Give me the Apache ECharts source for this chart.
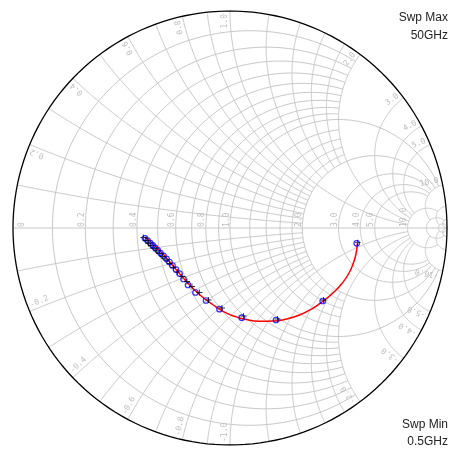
<!DOCTYPE html>
<html><head><meta charset="utf-8">
<script src="https://cdn.jsdelivr.net/npm/echarts@6/dist/echarts.min.js"></script>
<style>html,body{margin:0;padding:0;background:#fff}#c{width:454px;height:450px}</style>
</head><body><div id="c"></div>
<script>
// ---- data (reflection coefficient, real / imaginary) ----
const modelRe = [0.5866,0.5806,0.5668,0.5461,0.5161,0.4770,0.4300,0.3779,0.3203,0.2604,0.1982,0.1336,0.0737,0.0230,-0.0276,-0.0770,-0.1382,-0.1995,-0.2488,-0.2917,-0.3456,-0.3917];
const modelIm = [-0.0705,-0.1198,-0.1659,-0.2120,-0.2558,-0.2972,-0.3364,-0.3724,-0.4009,-0.4194,-0.4286,-0.4295,-0.4217,-0.4078,-0.3862,-0.3548,-0.3088,-0.2475,-0.1912,-0.1396,-0.0806,-0.0415];
const circRe = [0.5839,0.4272,0.2120,0.0539,-0.0484,-0.1106,-0.1590,-0.1935,-0.2143,-0.2327,-0.2488,-0.2650,-0.2788,-0.2926,-0.3065,-0.3203,-0.3327,-0.3447,-0.3562,-0.3677,-0.3797,-0.3917];
const circIm = [-0.0705,-0.3364,-0.4240,-0.4134,-0.3742,-0.3341,-0.2972,-0.2627,-0.2350,-0.2097,-0.1912,-0.1728,-0.1567,-0.1419,-0.1281,-0.1152,-0.1028,-0.0912,-0.0797,-0.0691,-0.0581,-0.0475];
const crossRe = [0.5885,0.4309,0.2189,0.0622,-0.0369,-0.0991,-0.1406,-0.1751,-0.1982,-0.2212,-0.2419,-0.2604,-0.2788,-0.2949,-0.3111,-0.3249,-0.3387,-0.3512,-0.3641,-0.3756,-0.3871,-0.3986];
const crossIm = [-0.0677,-0.3318,-0.4194,-0.4055,-0.3687,-0.3318,-0.2972,-0.2696,-0.2465,-0.2235,-0.2028,-0.1820,-0.1636,-0.1475,-0.1313,-0.1175,-0.1051,-0.0935,-0.0820,-0.0705,-0.0576,-0.0438];
const resistanceTicks = [0,0.2,0.4,0.6,0.8,1.0,2.0,3.0,4.0,5.0,10.0];
const reactanceTicks = [0.2,0.4,0.6,0.8,1.0,2.0,3.0,4.0,5.0,10.0];
const sweepText = ['Swp Max','50GHz','Swp Min','0.5GHz'];

// ---- Smith grid geometry ----
const TWO_PI = 2*Math.PI;
function gam(r,x){const d=(r+1)*(r+1)+x*x;return [(r*r+x*x-1)/d, 2*x/d];}
function norm(a){while(a<0)a+=TWO_PI;while(a>=TWO_PI)a-=TWO_PI;return a;}
function rArc(r,x1,x2){
  const c=r/(1+r), rho=1/(1+r);
  const th=x=>{ if(x===Infinity) return 0; if(x===-Infinity) return TWO_PI; if(x===0) return Math.PI;
    const p=gam(r,x); return norm(Math.atan2(p[1],p[0]-c)); };
  const a=th(x2), b=th(x1), n=180, pts=[];
  for(let i=0;i<=n;i++){const t=a+(b-a)*i/n; pts.push([c+rho*Math.cos(t), rho*Math.sin(t)]);}
  return pts;
}
function xArc(x,r1,r2){
  const cy=1/x, rho=1/Math.abs(x);
  const ps=r=>{ if(r===Infinity) return x>0?1.5*Math.PI:0.5*Math.PI;
    const p=gam(r,x); return norm(Math.atan2(p[1]-cy,p[0]-1)); };
  const a=ps(r1), b=ps(r2), n=180, pts=[];
  for(let i=0;i<=n;i++){const t=a+(b-a)*i/n; pts.push([1+rho*Math.cos(t), cy+rho*Math.sin(t)]);}
  return pts;
}
const gridArcs=[];
const rSpec=[[0.1,2],[0.2,2],[0.3,2],[0.4,2],[0.5,2],[0.6,2],[0.7,2],[0.8,2],[0.9,2],[1.0,10],
  [1.2,2],[1.4,2],[1.6,2],[1.8,2],[2.0,10],[3.0,10],[4.0,10],[5.0,10],[10,20],[20,50],[50,Infinity]];
rSpec.forEach(([r,lim])=>gridArcs.push(rArc(r,-lim,lim)));
const xSpec=[[0.1,2],[0.2,2],[0.3,2],[0.4,2],[0.5,2],[0.6,2],[0.7,2],[0.8,2],[0.9,2],[1.0,10],
  [1.2,2],[1.4,2],[1.6,2],[1.8,2],[2.0,10],[3.0,10],[4.0,10],[5.0,10],[10,20],[20,50],[50,Infinity]];
xSpec.forEach(([x,lim])=>{gridArcs.push(xArc(x,0,lim));gridArcs.push(xArc(-x,0,lim));});
gridArcs.push([[-1,0],[1,0]]);

const chart = echarts.init(document.getElementById('c'));
const zip=(a,b)=>a.map((v,i)=>[v,b[i]]);
chart.setOption({
  animation:false,
  backgroundColor:'#fff',
  grid:{left:13,top:11,width:434,height:434},
  xAxis:{type:'value',min:-1,max:1,show:false},
  yAxis:{type:'value',min:-1,max:1,show:false},
  series:[
    {type:'lines',coordinateSystem:'cartesian2d',polyline:true,silent:true,z:1,
     lineStyle:{color:'#c8c8c8',width:1,opacity:1},
     data:gridArcs.map(c=>({coords:c}))},
    {type:'lines',coordinateSystem:'cartesian2d',polyline:true,silent:true,z:2,
     lineStyle:{color:'#000',width:1.3,opacity:1},
     data:[{coords:rArc(0,-Infinity,Infinity)}]},
    {type:'line',data:zip(modelRe,modelIm),smooth:0.5,showSymbol:false,z:3,
     lineStyle:{color:'#ff0000',width:1.5}},
    {type:'scatter',data:zip(circRe,circIm),symbol:'circle',symbolSize:5.5,z:4,
     itemStyle:{color:'rgba(0,0,0,0)',borderColor:'#0000ff',borderWidth:1.2}},
    {type:'scatter',data:zip(crossRe,crossIm),symbol:'path://M3,0H4V3H7V4H4V7H3V4H0V3H3Z',symbolSize:6,z:5,
     itemStyle:{color:'#000'}}
  ]
});

const font='8px "DejaVu Sans Mono"', fill='#bdbdbd';
const els=[];
resistanceTicks.forEach(r=>{
  const p=chart.convertToPixel({gridIndex:0},[(r-1)/(r+1),0]);
  const px = r===0 ? p[0]+12 : p[0];
  els.push({type:'text',x:px,y:p[1],rotation:Math.PI/2,silent:true,z:10,
    style:{text:r===0?'0':r.toFixed(1),font,fill,align:'left',verticalAlign:'middle',x:1,y:-3.5}});
});
reactanceTicks.forEach(x=>{
  [x,-x].forEach(xx=>{
    const g=gam(0,xx), phi=Math.atan2(g[1],g[0]);
    const P=chart.convertToPixel({gridIndex:0},g);
    if(xx>0){
      els.push({type:'text',x:P[0],y:P[1],rotation:phi,silent:true,z:10,
        style:{text:x.toFixed(1),font,fill,align:'right',verticalAlign:'middle',x:-3,y:-5.5}});
    } else {
      els.push({type:'text',x:P[0],y:P[1],rotation:phi+Math.PI,silent:true,z:10,
        style:{text:'-'+x.toFixed(1),font,fill,align:'left',verticalAlign:'middle',x:3,y:-5.5}});
    }
  });
});
const sf='12px "Liberation Sans", Arial, sans-serif';
[[sweepText[0],18],[sweepText[1],36],[sweepText[2],425],[sweepText[3],441.5]].forEach(([t,y])=>{
  els.push({type:'text',x:448,y:y,silent:true,z:10,style:{text:t,font:sf,fill:'#222',align:'right',verticalAlign:'middle'}});
});
chart.setOption({graphic:{elements:els}});
</script>
</body></html>
